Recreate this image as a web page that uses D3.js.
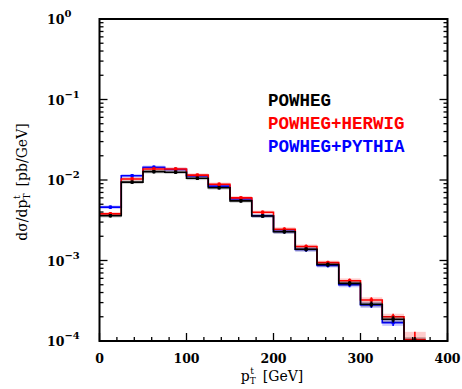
<!DOCTYPE html>
<html>
<head>
<meta charset="utf-8">
<script src="https://cdn.jsdelivr.net/npm/d3@7"></script>
<style>
  html, body { margin: 0; padding: 0; background: #fff; }
  svg { display: block; }
</style>
</head>
<body>
<svg id="chart" width="462" height="389"></svg>
<script>
// Top-quark transverse momentum spectrum, 25 GeV bins from 0 to 375 GeV
const binEdges = [0, 25, 50, 75, 100, 125, 150, 175, 200, 225, 250, 275, 300, 325, 350, 375];

const powheg        = [3.6e-3, 9.4e-3, 1.27e-2, 1.25e-2, 1.05e-2, 8.0e-3, 5.5e-3, 3.57e-3, 2.28e-3, 1.38e-3, 8.9e-4, 5.2e-4, 2.86e-4, 1.86e-4, 1.0e-4];
const powhegHerwig  = [3.8e-3, 1.03e-2, 1.37e-2, 1.37e-2, 1.15e-2, 8.85e-3, 6.0e-3, 3.97e-3, 2.44e-3, 1.49e-3, 9.4e-4, 5.6e-4, 3.23e-4, 2.0e-4, 1.04e-4];
const powhegPythia  = [4.6e-3, 1.13e-2, 1.44e-2, 1.35e-2, 1.12e-2, 8.4e-3, 5.8e-3, 3.6e-3, 2.3e-3, 1.37e-3, 8.7e-4, 5.0e-4, 2.8e-4, 1.69e-4, 0.95e-4];

// relative statistical uncertainty per bin
const errPowheg       = [0.05, 0.05, 0.05, 0.05, 0.05, 0.05, 0.05, 0.05, 0.06, 0.06, 0.06, 0.07, 0.08, 0.09, 0.12];
const errPowhegHerwig = [0.05, 0.05, 0.05, 0.05, 0.05, 0.05, 0.05, 0.05, 0.06, 0.06, 0.06, 0.07, 0.08, 0.09, 0.25];
const errPowhegPythia = [0.05, 0.05, 0.05, 0.05, 0.05, 0.05, 0.05, 0.05, 0.06, 0.06, 0.06, 0.07, 0.08, 0.09, 0.12];

const seriesNames = ["POWHEG", "POWHEG+HERWIG", "POWHEG+PYTHIA"];
const seriesColors = ["#000000", "#ff0000", "#0000ff"];

const xTickValues = [0, 100, 200, 300, 400];
const yTickExponents = [0, -1, -2, -3, -4];

const series = [
  { name: seriesNames[2], color: seriesColors[2], values: powhegPythia, err: errPowhegPythia },
  { name: seriesNames[1], color: seriesColors[1], values: powhegHerwig, err: errPowhegHerwig },
  { name: seriesNames[0], color: seriesColors[0], values: powheg, err: errPowheg }
];

const svg = d3.select("#chart");
const plotLeft = 99.5, plotRight = 447.5, plotTop = 19, plotBottom = 341;

const x = d3.scaleLinear().domain([0, 400]).range([plotLeft, plotRight]);
const y = d3.scaleLog().domain([1e-4, 1]).range([plotBottom, plotTop]);

svg.append("clipPath").attr("id", "plotClip")
  .append("rect").attr("x", plotLeft).attr("y", plotTop)
  .attr("width", plotRight - plotLeft).attr("height", plotBottom - plotTop);

const plot = svg.append("g").attr("clip-path", "url(#plotClip)");

const lineGen = d3.line().x(d => x(d[0])).y(d => y(d[1]));

series.forEach(s => {
  const bins = s.values.map((v, i) => ({ x0: binEdges[i], x1: binEdges[i + 1], v, e: s.err[i] }));
  const g = plot.append("g");

  // uncertainty bands
  g.selectAll("rect.band").data(bins).join("rect")
    .attr("class", "band")
    .attr("x", d => x(d.x0))
    .attr("width", d => x(d.x1) - x(d.x0))
    .attr("y", d => y(d.v * (1 + d.e)))
    .attr("height", d => Math.min(plotBottom + 5, y(Math.max(d.v * (1 - d.e), 1e-5))) - y(d.v * (1 + d.e)))
    .attr("fill", s.color)
    .attr("opacity", 0.2);

  // step histogram
  const pts = [];
  bins.forEach(d => { pts.push([d.x0, d.v]); pts.push([d.x1, d.v]); });
  g.append("path")
    .attr("d", lineGen(pts))
    .attr("fill", "none")
    .attr("stroke", s.color)
    .attr("stroke-width", 1.6);

  // error bars at bin centres
  g.selectAll("line.err").data(bins).join("line")
    .attr("class", "err")
    .attr("x1", d => x((d.x0 + d.x1) / 2))
    .attr("x2", d => x((d.x0 + d.x1) / 2))
    .attr("y1", d => y(d.v * (1 + d.e)))
    .attr("y2", d => y(d.v * (1 - d.e)))
    .attr("stroke", s.color)
    .attr("stroke-width", 1.6);

  g.selectAll("rect.pt").data(bins).join("rect")
    .attr("class", "pt")
    .attr("x", d => x((d.x0 + d.x1) / 2) - 1.6)
    .attr("y", d => y(d.v) - 1.6)
    .attr("width", 3.2).attr("height", 3.2)
    .attr("fill", s.color);
});

// frame
svg.append("rect")
  .attr("x", plotLeft).attr("y", plotTop)
  .attr("width", plotRight - plotLeft).attr("height", plotBottom - plotTop)
  .attr("fill", "none").attr("stroke", "#000").attr("stroke-width", 2);

// x ticks (inward, bottom)
const axisG = svg.append("g").attr("stroke", "#000").attr("stroke-width", 1.3);
d3.range(0, 401, 20).forEach(v => {
  const major = v % 100 === 0;
  axisG.append("line")
    .attr("x1", x(v)).attr("x2", x(v))
    .attr("y1", plotBottom).attr("y2", plotBottom - (major ? 8 : 4));
});

// y ticks (inward, both sides)
for (let p = -4; p < 0; p++) {
  for (let m = 1; m <= 9; m++) {
    const v = m * Math.pow(10, p);
    const len = m === 1 ? 8 : 4;
    axisG.append("line").attr("x1", plotLeft).attr("x2", plotLeft + len).attr("y1", y(v)).attr("y2", y(v));
    axisG.append("line").attr("x1", plotRight).attr("x2", plotRight - len).attr("y1", y(v)).attr("y2", y(v));
  }
}

// x tick labels
svg.append("g").selectAll("text").data(xTickValues).join("text")
  .attr("x", d => x(d)).attr("y", 363)
  .attr("text-anchor", "middle")
  .attr("font-family", "DejaVu Serif")
  .attr("font-weight", "bold")
  .attr("font-size", 12.5)
  .text(d => d);

// y tick labels as powers of ten
yTickExponents.forEach(p => {
  const t = svg.append("text")
    .attr("x", 47).attr("y", y(Math.pow(10, p)) + 5)
    .attr("font-family", "DejaVu Serif")
    .attr("font-weight", "bold")
    .attr("font-size", 12.5);
  t.append("tspan").text("10");
  t.append("tspan").attr("dy", -7).attr("font-size", 10)
    .text(p === 0 ? "0" : "\u2212" + Math.abs(p));
});

// axis titles: momentum symbol with stacked sub/superscript
function pTLabel(sel, before, after) {
  sel.append("tspan").text(before);
  sel.append("tspan").attr("font-size", 9).attr("dy", 3).text("T");
  sel.append("tspan").attr("font-size", 9).attr("dy", -10).attr("dx", -5.5).text("t");
  sel.append("tspan").attr("dy", 7).attr("dx", 9).text(after);
}

const xt = svg.append("text")
  .attr("x", 272).attr("y", 381)
  .attr("text-anchor", "middle")
  .attr("font-family", "DejaVu Serif")
  .attr("font-size", 14);
pTLabel(xt, "p", "[GeV]");

const yt = svg.append("text")
  .attr("transform", "translate(27,182) rotate(-90)")
  .attr("text-anchor", "middle")
  .attr("font-family", "DejaVu Serif")
  .attr("font-size", 14);
pTLabel(yt, "d\u03c3/dp", "[pb/GeV]");

// legend
const legendOrder = [0, 1, 2];
svg.append("g").selectAll("text").data(legendOrder).join("text")
  .attr("x", 268).attr("y", (d, i) => 106 + i * 23)
  .attr("font-family", "Liberation Mono")
  .attr("font-weight", "bold")
  .attr("font-size", 17.5)
  .attr("fill", d => seriesColors[d])
  .text(d => seriesNames[d]);
</script>
</body>
</html>
